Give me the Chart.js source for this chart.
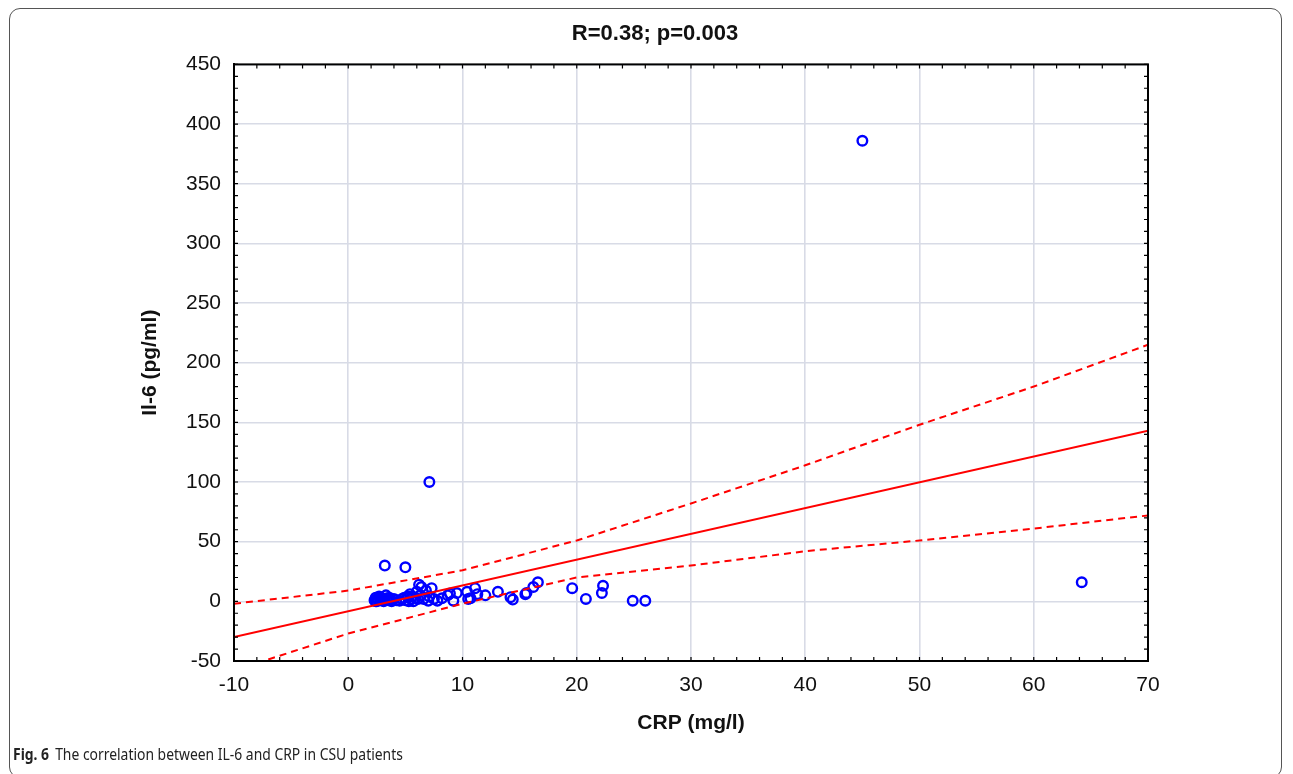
<!DOCTYPE html>
<html>
<head>
<meta charset="utf-8">
<script src="https://cdn.jsdelivr.net/npm/chart.js@4.4.1/dist/chart.umd.min.js"></script>
<style>
  html, body { margin: 0; padding: 0; background: #fff; }
  #wrap { position: relative; width: 1293px; height: 774px; overflow: hidden; }
  #frame { position: absolute; left: 9px; top: 8px; width: 1273px; height: 770px;
           border: 1px solid #555; border-radius: 11px; box-sizing: border-box; }
  #c { position: absolute; left: 0; top: 0; }
  #caption { position: absolute; left: 13px; top: 743px; font-family: "Noto Sans", "Open Sans", sans-serif;
             font-size: 16px; color: #222; white-space: nowrap; transform-origin: 0 0; }
  #caption b { margin-right: 7px; }
</style>
</head>
<body>
<div id="wrap">
  <div id="frame"></div>
  <canvas id="c" width="1293" height="774"></canvas>
  <div id="caption"><b>Fig. 6</b>The correlation between IL-6 and CRP in CSU patients</div>
</div>
<script>
// CRP (mg/l) vs Il-6 (pg/ml)
const crp = [2.3, 2.4, 2.5, 2.6, 2.7, 2.8, 3.0, 3.1, 3.3, 3.5, 3.6, 3.8, 4.0, 4.2, 4.5, 4.7,
             5.0, 5.2, 5.4, 5.5, 5.7, 5.9, 6.0, 6.2, 6.3, 6.4, 6.6, 6.8, 7.0, 7.1, 7.3, 7.5,
             7.8, 8.2, 8.7, 8.9, 9.2, 9.5, 10.4, 10.5, 10.7, 11.1, 11.3, 12.0, 13.1, 14.2,
             14.4, 15.5, 15.6, 16.2, 16.6, 19.6, 20.8, 22.2, 22.3, 24.9, 26.0, 3.2, 5.0,
             7.1, 45.0, 64.2, 2.4, 2.6, 2.9, 3.2, 3.4, 3.7, 4.9, 5.3, 5.6, 6.1];
const il6 = [1, 3, 0, 2, 4, 1, 2, 0, 5, 1, 3, 0, 2, 1, 0.5, 2,
             1, 4, 6, 2, 0, 3, 8, 14, 5, 12, 2, 9, 0.5, 4, 11, 2,
             0.5, 2.5, 5, 6.5, 0.5, 7, 8, 2, 2.5, 11, 6, 5, 8, 3.5,
             1.5, 6, 7, 12, 16, 11, 2, 7, 13, 0.5, 0.5, 30, 28.5,
             100, 386, 16, 0, 1.5, 3, 1, 2.5, 1.5, 3, 0, 4, 2];

// regression line end points
const fitX = [-10, 70];
const fitY = [-30, 143];

// 95% confidence bands
const bandX = [-10, 0, 10, 20, 30, 40, 50, 60, 70];
const upperY = [-2, 9, 26, 51, 82, 114, 148, 180, 215];
const lowerY = [-58, -27, -2, 20, 30, 42, 51, 61, 72];

const xTicks = [-10, 0, 10, 20, 30, 40, 50, 60, 70];
const yTicks = [-50, 0, 50, 100, 150, 200, 250, 300, 350, 400, 450];

const pts = (xs, ys) => xs.map((x, i) => ({ x: x, y: ys[i] }));

// frame on all four sides with small inward ticks
const frameTicks = {
  id: 'frameTicks',
  afterDatasetsDraw(chart) {
    const { ctx, chartArea: a, scales } = chart;
    ctx.save();
    ctx.strokeStyle = '#000';
    ctx.lineWidth = 1.2;
    ctx.beginPath();
    for (let v = -10; v <= 70; v += 2) {
      const px = scales.x.getPixelForValue(v);
      ctx.moveTo(px, a.bottom); ctx.lineTo(px, a.bottom - 4);
      ctx.moveTo(px, a.top); ctx.lineTo(px, a.top + 4);
    }
    for (let v = -50; v <= 450; v += 10) {
      const py = scales.y.getPixelForValue(v);
      ctx.moveTo(a.left, py); ctx.lineTo(a.left + 4, py);
      ctx.moveTo(a.right, py); ctx.lineTo(a.right - 4, py);
    }
    ctx.stroke();
    ctx.lineWidth = 2;
    ctx.strokeRect(a.left, a.top, a.right - a.left, a.bottom - a.top);
    ctx.restore();
  }
};

const lineStyle = { showLine: true, pointRadius: 0, borderColor: '#ff0000', borderWidth: 2, fill: false };
const axisFont = { family: 'Liberation Sans, Arial, sans-serif', size: 21 };
const boldFont = { family: 'Liberation Sans, Arial, sans-serif', size: 21, weight: 'bold' };

new Chart(document.getElementById('c'), {
  type: 'scatter',
  data: {
    datasets: [
      Object.assign({ label: 'fit', data: pts(fitX, fitY) }, lineStyle),
      Object.assign({ label: 'upper', data: pts(bandX, upperY), borderDash: [7, 5] }, lineStyle),
      Object.assign({ label: 'lower', data: pts(bandX, lowerY), borderDash: [7, 5] }, lineStyle),
      {
        label: 'patients',
        data: pts(crp, il6),
        pointStyle: 'circle',
        pointRadius: 4.8,
        borderColor: '#0000ff',
        backgroundColor: 'rgba(0,0,0,0)',
        borderWidth: 2.4
      }
    ]
  },
  options: {
    responsive: false,
    animation: false,
    layout: { padding: { left: 162, right: 145, top: 0, bottom: 33 } },
    plugins: {
      legend: { display: false },
      tooltip: { enabled: false },
      title: {
        display: true,
        text: 'R=0.38; p=0.003',
        color: '#111',
        font: { family: 'Liberation Sans, Arial, sans-serif', size: 22, weight: 'bold' },
        padding: { top: 21, bottom: 17 }
      }
    },
    scales: {
      x: {
        type: 'linear',
        min: -10, max: 70,
        afterBuildTicks: s => { s.ticks = xTicks.map(v => ({ value: v })); },
        afterFit: s => { s.height = 80; },
        grid: { color: '#d8dbe6', lineWidth: 1.6, drawTicks: false },
        border: { color: '#000', width: 2 },
        ticks: { color: '#111', padding: 12, font: axisFont },
        title: { display: true, text: 'CRP (mg/l)', color: '#111', font: boldFont, padding: { top: 0, bottom: 5 } }
      },
      y: {
        type: 'linear',
        min: -50, max: 450,
        afterBuildTicks: s => { s.ticks = yTicks.map(v => ({ value: v })); },
        afterFit: s => { s.width = 72; },
        grid: { color: '#d8dbe6', lineWidth: 1.6, drawTicks: false },
        border: { color: '#000', width: 2 },
        ticks: { color: '#111', padding: 13, font: axisFont },
        title: { display: true, text: 'Il-6 (pg/ml)', color: '#111', font: boldFont, padding: { top: -24, bottom: 0 } }
      }
    }
  },
  plugins: [frameTicks]
});

// squeeze the caption to the condensed width of the original
const cap = document.getElementById('caption');
cap.style.transform = 'scaleX(' + (390 / cap.offsetWidth) + ')';
</script>
</body>
</html>
